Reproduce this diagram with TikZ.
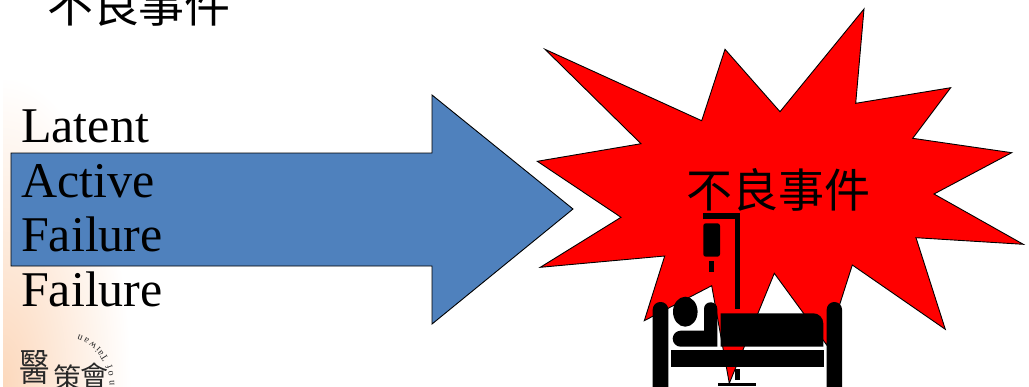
\documentclass[tikz,border=0pt]{standalone}
\usepackage{xcolor}
\usepackage{fontspec}
\setmainfont{Liberation Serif}
\newfontfamily\cjk{Noto Sans CJK TC}
\usetikzlibrary{positioning}
\definecolor{arrowblue}{RGB}{79,129,189}
\definecolor{peach}{RGB}{252,216,188}
\definecolor{logogray}{RGB}{40,40,40}

\begin{document}
\begin{tikzpicture}[
    x=1pt, y=-1pt,
    title/.style={font=\cjk\fontsize{46}{50}\selectfont, anchor=base, inner sep=0pt},
    failtext/.style={font=\fontsize{50}{54.5}\selectfont, align=left, anchor=north west, inner sep=0pt},
    shapeline/.style={draw=black, line width=0.9pt, line join=miter},
    bedpart/.style={fill=black, draw=none},
    seal/.style={font=\cjk\fontsize{28}{30}\selectfont, color=logogray, anchor=base, inner sep=0pt},
    sealtext/.style={font=\fontsize{10}{10}\selectfont, color=logogray, inner sep=0pt}
]
\useasboundingbox (0,0) rectangle (1029,386);

% faded corner behind the text
\begin{scope}
  \clip (3,80) rectangle (140,386);
  \shade[inner color=peach, outer color=white] (3,386) ellipse [x radius=128, y radius=310];
\end{scope}

\node[title] (heading) at (139,22) {不良事件};

% arrow
\draw[shapeline, fill=arrowblue] (11,153) -- (432,153) -- (432,95) -- (573,209)
    -- (432,324) -- (432,266) -- (11,266) -- cycle;
\node[failtext] (fail) at (21,110) {Latent\\Active\\Failure\\Failure};

% burst
\draw[shapeline, fill=red] (545,49.3) -- (701.7,120.7) -- (725,49.3) -- (780,111.7)
    -- (864,9) -- (855.7,103.3) -- (950.7,87.7) -- (912.7,138.3) -- (1011.7,152.7)
    -- (934,194) -- (1023.3,244.3) -- (916,237.7) -- (945.3,329.3) -- (852.3,265)
    -- (826.7,345) -- (774.3,273.3) -- (729.3,383.3) -- (711.7,285.7) -- (644.3,320.7)
    -- (664.7,256) -- (540.3,267.3) -- (621,217.3) -- (537.3,161.3) -- (641,143.7) -- cycle;
\node[title] (event) at (778,207) {不良事件};

% patient in bed
\fill[bedpart, rounded corners=7.5pt] (652.7,400) -- (652.7,302) -- (668.3,302) -- (668.3,400) -- cycle;
\fill[bedpart, rounded corners=7.5pt] (826.7,400) -- (826.7,302) -- (842,302) -- (842,400) -- cycle;
\fill[bedpart] (685.3,311.7) ellipse [x radius=12.3, y radius=15];
\fill[bedpart] (717.3,346.7) -- (680,346.7) [rounded corners=8pt] -- (672.7,346.7) -- (672.7,330.7) [sharp corners] -- (704,330.7)
    [rounded corners=6.5pt] -- (704,302.3) -- (717.3,302.3) [sharp corners] -- cycle;
\fill[bedpart] (720.7,346.7) -- (720.7,313.3) [rounded corners=10pt] -- (823.3,313.3) [sharp corners] -- (823.3,346.7) -- cycle;
\fill[bedpart] (670.7,350) rectangle (824,366.7);
\fill[bedpart] (735.3,213.3) rectangle (740,309.3);
\fill[bedpart] (703.3,213.3) rectangle (740,218.7);
\fill[bedpart, rounded corners=2.5pt] (703.3,223.3) rectangle (720,256.7);
\fill[bedpart] (709.3,261.3) rectangle (714,271.7);
\fill[bedpart] (735,369.3) rectangle (740,380);
\fill[bedpart] (718,383.3) rectangle (756,386);

% logo
\node[seal, font=\cjk\fontsize{38}{40}\selectfont, xscale=0.8] (sealA) at (35,381) {醫};
\node[seal] (sealB) at (67,388) {策};
\node[seal] (sealC) at (94,386) {會};
\foreach \letter/\ang [count=\i] in {n/2,o/13,f/20,T/32,a/39,i/44,w/51,a/60,n/68}
  \node[sealtext, rotate=\ang+90] (ring\i) at ({61+51*cos(\ang)},{385-51*sin(\ang)}) {\letter};
\end{tikzpicture}
\end{document}
